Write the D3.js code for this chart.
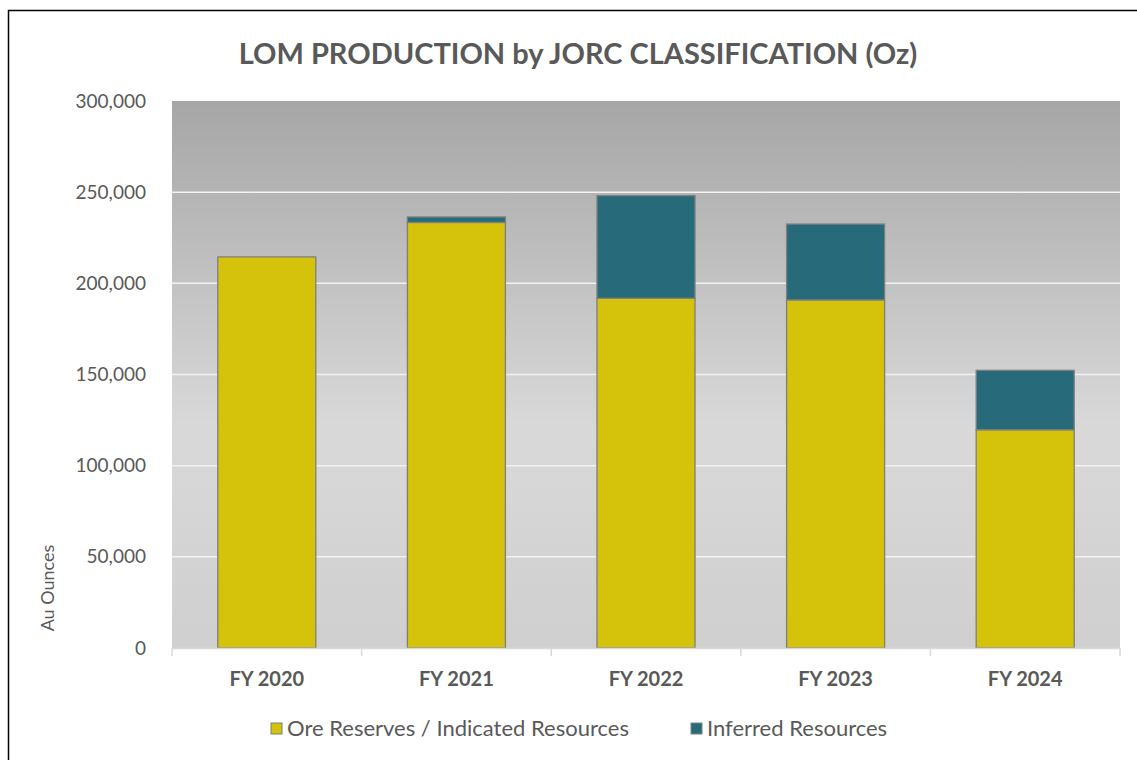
<!DOCTYPE html>
<html>
<head>
<meta charset="utf-8">
<script src="https://cdn.jsdelivr.net/npm/d3@7"></script>
<style>
  body { margin: 0; background: #fff; }
  text { font-family: Lato, "Open Sans", sans-serif; fill: #595959; }
</style>
</head>
<body>
<div id="chart"></div>
<script>
const years = ["FY 2020", "FY 2021", "FY 2022", "FY 2023", "FY 2024"];
const oreReserves = [214500, 233400, 191800, 190900, 119700];
const inferred = [0, 3000, 56300, 41600, 32600];
const yTicks = [0, 50000, 100000, 150000, 200000, 250000, 300000];
const seriesNames = ["Ore Reserves / Indicated Resources", "Inferred Resources"];
const seriesColors = ["#d4c20b", "#276a7a"];

const w = 1137, h = 760;
const plotLeft = 172, plotRight = 1120, plotTop = 101, plotBottom = 648;

const svg = d3.select("#chart").append("svg")
  .attr("width", w).attr("height", h);

// background gradient for plot area
const grad = svg.append("defs").append("linearGradient")
  .attr("id", "bg").attr("x1", 0).attr("y1", 0).attr("x2", 0).attr("y2", 1);
grad.append("stop").attr("offset", "0%").attr("stop-color", "#a6a6a6");
grad.append("stop").attr("offset", "60%").attr("stop-color", "#d9d9d9");
grad.append("stop").attr("offset", "100%").attr("stop-color", "#cfcfcf");

// outer frame
svg.append("rect")
  .attr("x", 8.5).attr("y", 10.5).attr("width", 1140).attr("height", 760)
  .attr("fill", "none").attr("stroke", "#000").attr("stroke-width", 1.5);

const x = d3.scaleBand().domain(years).range([plotLeft, plotRight]).paddingInner(0.483).paddingOuter(0.2415);
const y = d3.scaleLinear().domain([0, 300000]).range([plotBottom, plotTop]);

svg.append("rect")
  .attr("x", plotLeft).attr("y", plotTop).attr("width", plotRight - plotLeft).attr("height", plotBottom - plotTop)
  .attr("fill", "url(#bg)");

// gridlines
svg.append("g").selectAll("line")
  .data(yTicks.filter(d => d > 0 && d < 300000))
  .enter().append("line")
  .attr("x1", plotLeft).attr("x2", plotRight)
  .attr("y1", d => y(d)).attr("y2", d => y(d))
  .attr("stroke", "#f2f2f2").attr("stroke-width", 1.5);

// stacked data
const table = years.map((yr, i) => ({ year: yr, ore: oreReserves[i], inf: inferred[i] }));
const stack = d3.stack().keys(["ore", "inf"])(table);

svg.append("g").selectAll("g")
  .data(stack)
  .enter().append("g")
  .attr("fill", (d, i) => seriesColors[i])
  .selectAll("rect")
  .data(d => d)
  .enter().append("rect")
  .attr("x", d => x(d.data.year))
  .attr("y", d => y(d[1]))
  .attr("width", x.bandwidth())
  .attr("height", d => y(d[0]) - y(d[1]))
  .attr("stroke", "#7f7f7f")
  .attr("stroke-width", 1.3)
  .attr("display", d => d[1] - d[0] > 0 ? null : "none");

// y axis
const yAxis = d3.axisLeft(y).tickValues(yTicks).tickFormat(d3.format(",")).tickSize(0).tickPadding(26);
svg.append("g")
  .attr("transform", "translate(" + plotLeft + ",0)")
  .call(yAxis)
  .call(g => g.select(".domain").remove())
  .selectAll("text")
  .style("font-size", "19px");

// x axis
const xAxis = d3.axisBottom(x).tickSize(0).tickPadding(24);
const xg = svg.append("g")
  .attr("transform", "translate(0," + plotBottom + ")")
  .call(xAxis);
xg.select(".domain").attr("stroke", "#d9d9d9").attr("stroke-width", 1.5);
xg.selectAll("text").style("font-size", "20px").style("font-weight", "bold");
// category boundary ticks
xg.selectAll(".sep")
  .data(years.concat(["end"]))
  .enter().append("line")
  .attr("class", "sep")
  .attr("x1", (d, i) => plotLeft + i * x.step())
  .attr("x2", (d, i) => plotLeft + i * x.step())
  .attr("y1", 0).attr("y2", 8)
  .attr("stroke", "#d9d9d9").attr("stroke-width", 1.5);

// title
svg.append("text")
  .attr("x", 578).attr("y", 64)
  .attr("text-anchor", "middle")
  .style("font-size", "29px").style("font-weight", "bold")
  .text("LOM PRODUCTION by JORC CLASSIFICATION (Oz)");

// y axis title
svg.append("g")
  .attr("transform", "translate(54,588)")
  .append("text")
  .attr("text-anchor", "middle")
  .attr("transform", "rotate(-90)")
  .style("font-size", "18px")
  .text("Au Ounces");

// legend
const legendX = [271, 691];
const lg = svg.append("g").selectAll("g")
  .data(seriesNames)
  .enter().append("g")
  .attr("transform", (d, i) => "translate(" + legendX[i] + ",723)");
lg.append("rect")
  .attr("width", 11).attr("height", 11)
  .attr("fill", (d, i) => seriesColors[i])
  .attr("stroke", "#7f7f7f").attr("stroke-width", 1);
lg.append("text")
  .attr("x", 16).attr("y", 13)
  .style("font-size", "22px")
  .text(d => d);
</script>
</body>
</html>
